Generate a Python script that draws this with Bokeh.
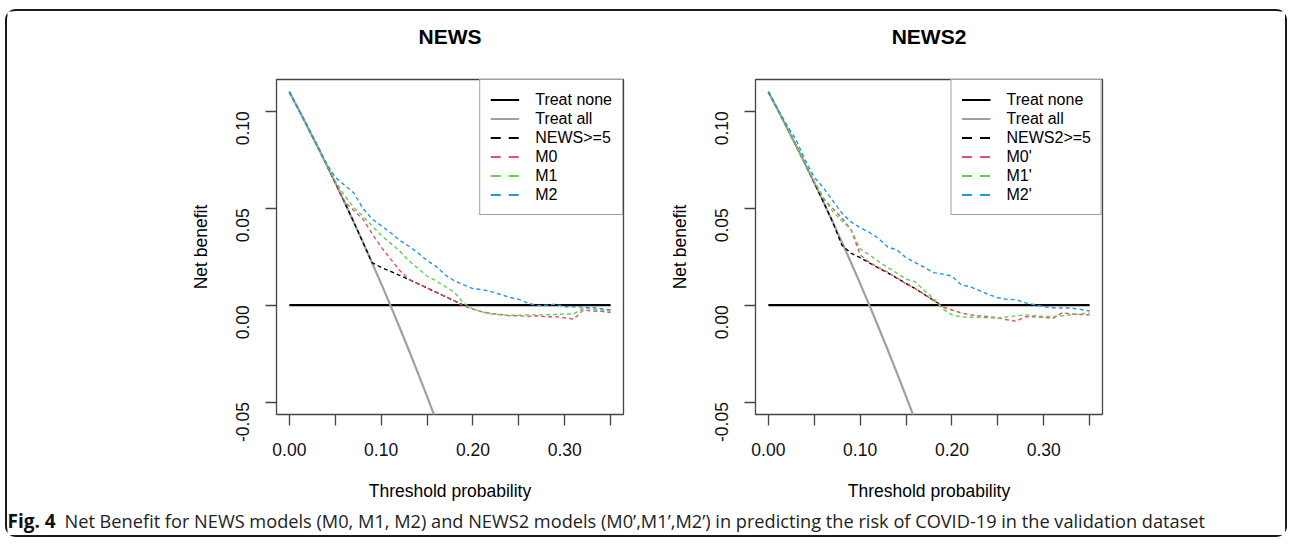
import math
from bokeh.plotting import figure
from bokeh.layouts import row, column
from bokeh.models import Range1d, FixedTicker, Legend, LegendItem, Label
from bokeh.embed import file_html
from bokeh.resources import INLINE

FONT = "Liberation Sans"
CAP_FONT = "Open Sans"
NAN = float("nan")

# ---------------- data ----------------
thresholds = [0.00, 0.01, 0.02, 0.03, 0.04, 0.05, 0.06, 0.07, 0.08, 0.09,
              0.10, 0.11, 0.12, 0.13, 0.14, 0.15, 0.16, 0.17, 0.18, 0.19,
              0.20, 0.21, 0.22, 0.23, 0.24, 0.25, 0.26, 0.27, 0.28, 0.29,
              0.30, 0.31, 0.32, 0.33, 0.34, 0.35]

treat_none_x = [0.00, 0.35]
treat_none_nb = [0.0, 0.0]

treat_all_x = [0.00, 0.01, 0.02, 0.03, 0.04, 0.05, 0.06, 0.07, 0.08, 0.09,
               0.10, 0.11, 0.12, 0.13, 0.14, 0.15, 0.16, 0.17]
treat_all_nb = [0.110, 0.101, 0.0918, 0.0825, 0.0729, 0.0632, 0.0532, 0.0430, 0.0326, 0.0220,
                0.0111, 0.0000, -0.0114, -0.0230, -0.0349, -0.0471, -0.0595, -0.0723]

# NEWS panel
news_cut_nb = [0.110, 0.101, 0.0918, 0.0825, 0.0729, 0.0632, 0.0532, 0.0430, 0.0326, 0.0220,
               0.0195, 0.0175, 0.0154, 0.0133, 0.0111, 0.0089, 0.0067, 0.0044, 0.0022, 0.0000]
m0_nb = [0.110, 0.101, 0.0918, 0.0825, 0.0729, 0.0635, 0.0535, 0.0490, 0.0445, 0.0370,
         0.0300, 0.0240, 0.0180, 0.0135, 0.0110, 0.0088, 0.0066, 0.0044, 0.0022, -0.0005,
         -0.0020, -0.0035, -0.0043, -0.0048, -0.0055, -0.0055, -0.0058, -0.0055, -0.0060, -0.0060,
         -0.0065, -0.0072, -0.0025, -0.0030, -0.0032, -0.0038]
m1_nb = [0.110, 0.101, 0.0920, 0.0825, 0.0730, 0.0640, 0.0565, 0.0505, 0.0460, 0.0410,
         0.0360, 0.0320, 0.0280, 0.0230, 0.0190, 0.0150, 0.0125, 0.0095, 0.0065, 0.0010,
         -0.0020, -0.0035, -0.0045, -0.0050, -0.0052, -0.0052, -0.0050, -0.0050, -0.0050, -0.0048,
         -0.0046, -0.0045, -0.0015, -0.0020, -0.0025, -0.0030]
m2_nb = [0.110, 0.101, 0.0920, 0.0830, 0.0735, 0.0660, 0.0620, 0.0580, 0.0500, 0.0445,
         0.0410, 0.0375, 0.0335, 0.0305, 0.0270, 0.0230, 0.0200, 0.0155, 0.0125, 0.0105,
         0.0085, 0.0080, 0.0070, 0.0055, 0.0040, 0.0030, 0.0010, -0.0002, 0.0000, 0.0005,
         -0.0008, -0.0008, -0.0010, -0.0012, -0.0018, -0.0025]

# NEWS2 panel
news2_cut_nb = [0.110, 0.101, 0.0918, 0.0825, 0.0729, 0.0632, 0.0532, 0.0430, 0.0310, 0.0268,
                0.0245, 0.0218, 0.0192, 0.0167, 0.0140, 0.0112, 0.0085, 0.0055, 0.0025, -0.0005]
m0p_nb = [0.110, 0.101, 0.0920, 0.0825, 0.0730, 0.0635, 0.0550, 0.0500, 0.0450, 0.0390,
          0.0260, 0.0220, 0.0195, 0.0170, 0.0140, 0.0110, 0.0085, 0.0055, 0.0025, -0.0010,
          -0.0025, -0.0040, -0.0050, -0.0055, -0.0060, -0.0065, -0.0075, -0.0083, -0.0060, -0.0060,
          -0.0063, -0.0068, -0.0040, -0.0045, -0.0048, -0.0050]
m1p_nb = [0.110, 0.101, 0.0920, 0.0825, 0.0730, 0.0640, 0.0555, 0.0485, 0.0435, 0.0390,
          0.0290, 0.0260, 0.0225, 0.0195, 0.0165, 0.0135, 0.0120, 0.0075, 0.0035, -0.0020,
          -0.0050, -0.0060, -0.0062, -0.0062, -0.0065, -0.0067, -0.0060, -0.0055, -0.0050, -0.0055,
          -0.0058, -0.0058, -0.0055, -0.0050, -0.0045, -0.0040]
m2p_nb = [0.110, 0.1015, 0.0930, 0.0855, 0.0750, 0.0660, 0.0605, 0.0540, 0.0475, 0.0430,
          0.0400, 0.0375, 0.0345, 0.0300, 0.0285, 0.0245, 0.0220, 0.0195, 0.0168, 0.0160,
          0.0150, 0.0105, 0.0095, 0.0075, 0.0055, 0.0038, 0.0030, 0.0028, 0.0012, 0.0002,
          -0.0008, -0.0013, -0.0015, -0.0015, -0.0022, -0.0030]

left_labels = ["Treat none", "Treat all", "NEWS>=5", "M0", "M1", "M2"]
right_labels = ["Treat none", "Treat all", "NEWS2>=5", "M0'", "M1'", "M2'"]
panel_titles = ["NEWS", "NEWS2"]

x_ticks = [0.00, 0.05, 0.10, 0.15, 0.20, 0.25, 0.30, 0.35]
x_tick_labels = ["0.00", "", "0.10", "", "0.20", "", "0.30", ""]
y_ticks = [-0.05, 0.00, 0.05, 0.10]
y_tick_labels = ["-0.05", "0.00", "0.05", "0.10"]

x_label = "Threshold probability"
y_label = "Net benefit"
caption_bold = "Fig. 4"
caption_text = ("Net Benefit for NEWS models (M0, M1, M2) and NEWS2 models (M0\u2019,M1\u2019,M2\u2019) "
                "in predicting the risk of COVID-19 in the validation dataset")

BLACK = "#000000"
GRAY = "#A0A0A0"
RED = "#DF536B"
GREEN = "#61D04F"
BLUE = "#2297E6"
BOX = "#444444"

# ---------------- layout constants ----------------
TITLE_H = 40          # strip holding the two panel titles
PANEL_H = 458
MB_TOP = 28
MB_BOTTOM = 95
LEFT_W, LEFT_MBL, LEFT_MBR = 643, 269, 27
RIGHT_W, RIGHT_MBL, RIGHT_MBR = 635, 105, 183
TOTAL_W = LEFT_W + RIGHT_W
X0, X1 = -0.014, 0.364
Y0, Y1 = -0.0564, 0.1164


def make_panel(labels, cut_nb, models, width, mb_left, mb_right):
    p = figure(width=width, height=PANEL_H,
               x_range=Range1d(X0, X1), y_range=Range1d(Y0, Y1),
               toolbar_location=None, output_backend="svg",
               min_border_left=mb_left, min_border_right=mb_right,
               min_border_top=MB_TOP, min_border_bottom=MB_BOTTOM,
               background_fill_color="white", border_fill_color="white")
    p.grid.visible = False
    p.outline_line_color = BOX
    p.outline_line_width = 1.3

    p.xaxis.ticker = FixedTicker(ticks=x_ticks)
    p.xaxis.major_label_overrides = dict(zip(x_ticks, x_tick_labels))
    p.yaxis.ticker = FixedTicker(ticks=y_ticks)
    p.yaxis.major_label_overrides = dict(zip(y_ticks, y_tick_labels))
    p.xaxis.axis_label = x_label
    p.yaxis.axis_label = y_label
    for ax in p.axis:
        ax.axis_line_color = None
        ax.major_tick_out = 11
        ax.major_tick_in = 0
        ax.major_tick_line_color = BOX
        ax.major_tick_line_width = 1.3
        ax.minor_tick_line_color = None
        ax.major_label_text_font = FONT
        ax.major_label_text_font_size = "17.5px"
        ax.major_label_text_color = "#111111"
        ax.axis_label_text_font = FONT
        ax.axis_label_text_font_size = "17.5px"
        ax.axis_label_text_font_style = "normal"
        ax.axis_label_text_color = BLACK
    p.xaxis.major_label_standoff = 17
    p.xaxis.axis_label_standoff = 22
    p.yaxis.major_label_orientation = math.pi / 2
    p.yaxis.major_label_standoff = 23
    p.yaxis.axis_label_standoff = 16

    p.line(treat_none_x, treat_none_nb, line_color=BLACK, line_width=2.2)
    p.line(treat_all_x, treat_all_nb, line_color=GRAY, line_width=2.2)
    p.line(thresholds[:len(cut_nb)], cut_nb, line_color=BLACK, line_width=1.4, line_dash="4 3")
    for nb, col in zip(models, [RED, GREEN, BLUE]):
        p.line(thresholds, nb, line_color=col, line_width=1.4, line_dash="4 3")

    # legend-only renderers (no visible marks) so the key can use R-like longer dashes
    legend_styles = [(BLACK, 2.2, "solid"), (GRAY, 2.2, "solid"), (BLACK, 2.2, "10 8"),
                     (RED, 2.2, "10 8"), (GREEN, 2.2, "10 8"), (BLUE, 2.2, "10 8")]
    items = []
    for lab, (col, w, d) in zip(labels, legend_styles):
        r = p.line([NAN], [NAN], line_color=col, line_width=w, line_dash=d)
        items.append(LegendItem(label=lab, renderers=[r]))
    legend = Legend(items=items, location="top_right", margin=0, padding=10, spacing=0,
                    glyph_width=29, glyph_height=19, label_height=19, label_standoff=16,
                    label_text_font=FONT, label_text_font_size="16px", label_text_color=BLACK,
                    border_line_color=BOX, border_line_width=1.3,
                    background_fill_color="white", background_fill_alpha=1.0)
    p.add_layout(legend)
    return p


left = make_panel(left_labels, news_cut_nb, [m0_nb, m1_nb, m2_nb], LEFT_W, LEFT_MBL, LEFT_MBR)
right = make_panel(right_labels, news2_cut_nb, [m0p_nb, m1p_nb, m2p_nb], RIGHT_W, RIGHT_MBL, RIGHT_MBR)

# ---------------- title strip (centred over each plot box) ----------------
frame_w_left = LEFT_W - LEFT_MBL - LEFT_MBR
frame_w_right = RIGHT_W - RIGHT_MBL - RIGHT_MBR
title_x = [LEFT_MBL + frame_w_left / 2, LEFT_W + RIGHT_MBL + frame_w_right / 2]
titles = figure(width=TOTAL_W, height=TITLE_H, toolbar_location=None, output_backend="svg",
                x_axis_type=None, y_axis_type=None, min_border=0,
                x_range=Range1d(0, 1), y_range=Range1d(0, 1))
titles.grid.visible = False
titles.outline_line_color = None
for tx, tt in zip(title_x, panel_titles):
    titles.add_layout(Label(x=tx, y=15.5, x_units="screen", y_units="screen", text=tt,
                            text_font=FONT, text_font_size="21px", text_font_style="bold",
                            text_color=BLACK, text_align="center", text_baseline="middle"))

# ---------------- caption strip ----------------
cap = figure(width=TOTAL_W, height=26, toolbar_location=None, output_backend="svg",
             x_axis_type=None, y_axis_type=None, min_border=0,
             x_range=Range1d(0, 1), y_range=Range1d(0, 1))
cap.grid.visible = False
cap.outline_line_color = None
cap.add_layout(Label(x=0, y=15, x_units="screen", y_units="screen", text=caption_bold,
                     text_font=CAP_FONT, text_font_style="bold", text_font_size="19px",
                     text_color="#111111", text_baseline="middle"))
cap.add_layout(Label(x=57, y=15, x_units="screen", y_units="screen", text=caption_text,
                     text_font=CAP_FONT, text_font_size="18.2px",
                     text_color="#222222", text_baseline="middle"))

layout = column(titles, row(left, right), cap,
                styles={"border": "2px solid #1a1a1a", "border-radius": "11px",
                        "margin-left": "5px", "margin-top": "9px"})

open("out.html", "w").write(file_html(layout, INLINE))
